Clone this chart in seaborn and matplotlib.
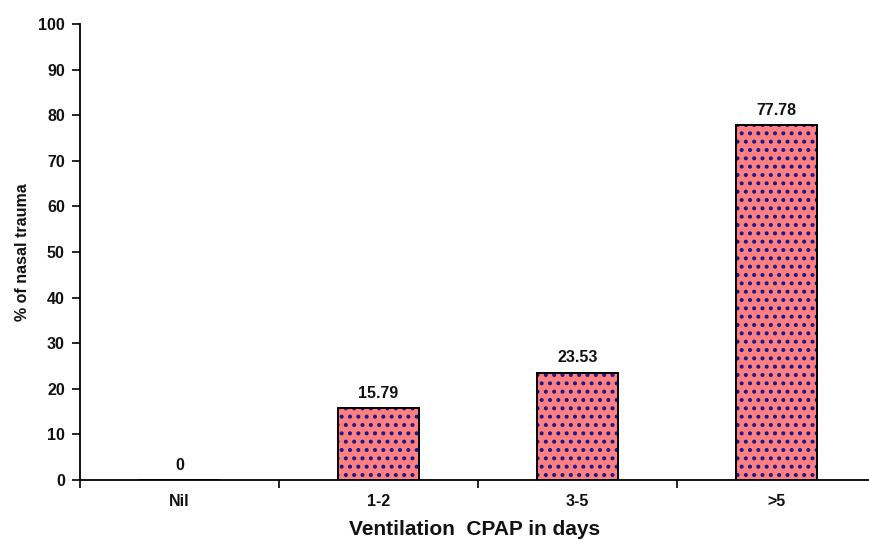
import matplotlib
matplotlib.use("Agg")
import matplotlib.pyplot as plt
import seaborn as sns
import pandas as pd
from matplotlib.ticker import FixedLocator

# CPAP ventilation duration groups and share of infants with nasal trauma
categories = ["Nil", "1-2", "3-5", ">5"]
values = [0, 15.79, 23.53, 77.78]
value_labels = ["0", "15.79", "23.53", "77.78"]
y_ticks = [0, 10, 20, 30, 40, 50, 60, 70, 80, 90, 100]

df = pd.DataFrame({"group": categories, "pct": values})

sns.set_style("white")
plt.rcParams["font.family"] = ["Liberation Sans", "DejaVu Sans"]
plt.rcParams["font.weight"] = "bold"
plt.rcParams["hatch.linewidth"] = 1.7

fig = plt.figure(figsize=(8.70, 5.39), dpi=100)
ax = fig.add_axes([0.092, 0.1095, 0.908, 0.846])

fill = "#FF8080"
dots = "#1A1A8C"
text_c = "#111111"
bar_w = 0.41

# hatched fill (hatch colour follows the edge colour, so the outline is drawn separately)
sns.barplot(data=df, x="group", y="pct", order=categories, color=fill,
            saturation=1, width=bar_w, edgecolor=dots, linewidth=0,
            hatch="..", ax=ax, errorbar=None)
# black outline on top
sns.barplot(data=df, x="group", y="pct", order=categories, fill=False,
            width=bar_w, edgecolor="black", linewidth=1.4, ax=ax,
            errorbar=None)

# value labels above bars
for i, (v, lab) in enumerate(zip(values, value_labels)):
    ax.text(i, v + 1.6, lab, ha="center", va="bottom", fontsize=11.5,
            fontweight="bold", color=text_c)

ax.set_ylim(0, 100)
ax.set_xlim(-0.5, 3.47)
ax.set_yticks(y_ticks)
ax.set_yticklabels([str(t) for t in y_ticks])

# x ticks sit between categories, labels at category centres
ax.xaxis.set_minor_locator(FixedLocator([-0.5, 0.5, 1.5, 2.5, 3.5]))
ax.tick_params(axis="x", which="major", length=0, pad=10, labelsize=11.5)
ax.tick_params(axis="x", which="minor", length=6, width=1.2, color="black",
               direction="out")
ax.tick_params(axis="y", length=6, width=1.2, color="black", direction="out",
               labelsize=11.5, pad=5)
ax.xaxis.set_ticks_position("bottom")
ax.yaxis.set_ticks_position("left")

for lab in ax.get_xticklabels() + ax.get_yticklabels():
    lab.set_fontweight("bold")
    lab.set_color(text_c)

sns.despine(ax=ax, top=True, right=True)
for side in ("left", "bottom"):
    ax.spines[side].set_color("black")
    ax.spines[side].set_linewidth(1.3)

ax.set_xlabel("Ventilation  CPAP in days", fontsize=15, fontweight="bold",
              labelpad=8, color=text_c)
ax.set_ylabel("% of nasal trauma", fontsize=11.5, fontweight="bold",
              color=text_c)
ax.yaxis.set_label_coords(-0.063, 0.5)

fig.savefig("out.png", dpi=100)
